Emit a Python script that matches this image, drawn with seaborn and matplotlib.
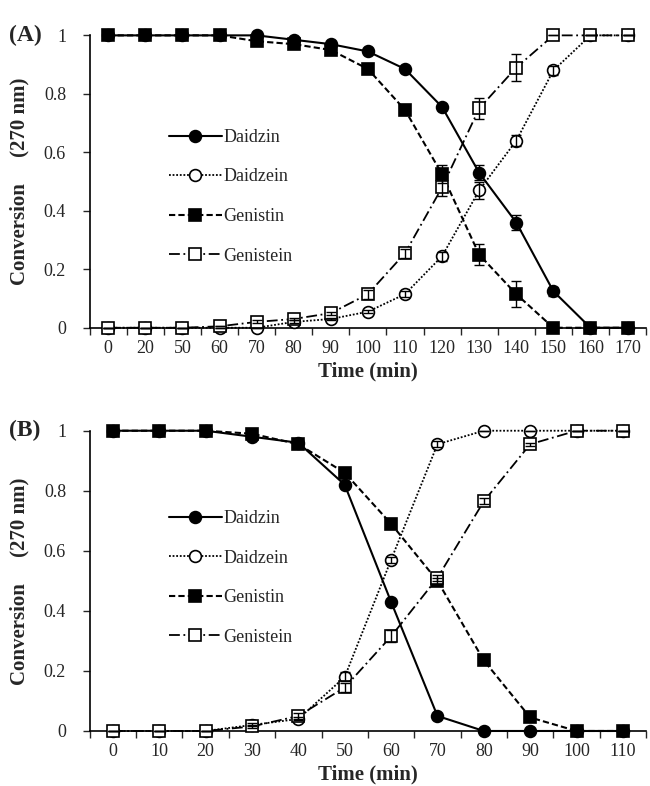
import numpy as np
import matplotlib
matplotlib.use('Agg')
import matplotlib.pyplot as plt
from matplotlib.ticker import FixedLocator, FuncFormatter
import seaborn as sns

# ---- panel A data ------------------------------------------------------
time_a = ['0', '20', '50', '60', '70', '80', '90', '100', '110', '120', '130', '140', '150', '160', '170']
daidzin_a = [1, 1, 1, 1, 1.0, 0.985, 0.97, 0.945, 0.885, 0.755, 0.53, 0.36, 0.125, 0, 0]
daidzein_a = [0, 0, 0, 0, 0, 0.02, 0.03, 0.055, 0.115, 0.245, 0.47, 0.64, 0.88, 1, 1]
genistin_a = [1, 1, 1, 1, 0.98, 0.97, 0.95, 0.885, 0.745, 0.525, 0.25, 0.115, 0, 0, 0]
genistein_a = [0, 0, 0, 0.005, 0.02, 0.03, 0.05, 0.115, 0.255, 0.48, 0.75, 0.89, 1, 1, 1]
daidzin_a_err = [0, 0, 0, 0, 0, 0.005, 0.005, 0.005, 0.005, 0.01, 0.025, 0.025, 0.015, 0, 0]
daidzein_a_err = [0, 0, 0, 0, 0, 0.005, 0.005, 0.005, 0.01, 0.015, 0.03, 0.02, 0.015, 0, 0]
genistin_a_err = [0, 0, 0, 0, 0, 0.005, 0.005, 0.005, 0.005, 0.03, 0.035, 0.045, 0, 0, 0]
genistein_a_err = [0, 0, 0, 0, 0.005, 0.005, 0.005, 0.015, 0.015, 0.03, 0.035, 0.045, 0, 0, 0]

# ---- panel B data ------------------------------------------------------
time_b = ['0', '10', '20', '30', '40', '50', '60', '70', '80', '90', '100', '110']
daidzin_b = [1, 1, 1, 0.98, 0.96, 0.82, 0.43, 0.05, 0, 0, 0, 0]
daidzein_b = [0, 0, 0, 0.02, 0.04, 0.18, 0.57, 0.955, 1, 1, 1, 1]
genistin_b = [1, 1, 1, 0.99, 0.955, 0.86, 0.69, 0.5, 0.235, 0.045, 0, 0]
genistein_b = [0, 0, 0, 0.015, 0.05, 0.145, 0.315, 0.51, 0.765, 0.955, 1, 1]
daidzin_b_err = [0, 0, 0, 0.005, 0.005, 0.005, 0.005, 0.005, 0, 0, 0, 0]
daidzein_b_err = [0, 0, 0, 0.005, 0.005, 0.015, 0.01, 0.01, 0, 0, 0, 0]
genistin_b_err = [0, 0, 0, 0.005, 0.005, 0.005, 0.005, 0.01, 0, 0, 0, 0]
genistein_b_err = [0, 0, 0, 0.005, 0.01, 0.015, 0.02, 0.01, 0.01, 0.005, 0, 0]

series = ['Daidzin', 'Daidzein', 'Genistin', 'Genistein']

sns.set_theme(style='white')
plt.rcParams['font.family'] = ['Liberation Serif', 'DejaVu Serif']

styles = {
    'Daidzin':   dict(marker='o', mfc='black', ls='-', lw=1.5),
    'Daidzein':  dict(marker='o', mfc='white', ls=(0, (1, 1)), lw=1.3),
    'Genistin':  dict(marker='s', mfc='black', ls=(0, (3, 1.5)), lw=1.5),
    'Genistein': dict(marker='s', mfc='white', ls=(0, (6, 2, 1, 2)), lw=1.3),
}


def draw_panel(ax, times, vals, errs, tag, leg_y):
    x = np.arange(len(times))
    for name in series:
        st = styles[name]
        sns.lineplot(x=x, y=vals[name], ax=ax, color='black', marker=st['marker'],
                     markersize=8.5, markerfacecolor=st['mfc'], markeredgecolor='black',
                     markeredgewidth=1.2, linestyle=st['ls'], linewidth=st['lw'],
                     label=name, clip_on=False, zorder=3)
        ax.errorbar(x, vals[name], yerr=errs[name], fmt='none', ecolor='black',
                    elinewidth=1, capsize=3.5, capthick=1, zorder=4, clip_on=False)

    ax.set_xlim(-0.5, len(times) - 0.5)
    ax.set_ylim(0, 1)
    ax.set_xticks(x)
    ax.set_xticklabels(times)
    ax.xaxis.set_minor_locator(FixedLocator(np.arange(-0.5, len(times), 1)))
    ax.tick_params(axis='x', which='major', length=0, pad=9, labelsize=13)
    ax.tick_params(axis='x', which='minor', length=5, width=1, direction='out', bottom=True)
    ax.set_yticks([0, 0.2, 0.4, 0.6, 0.8, 1])
    ax.yaxis.set_major_formatter(FuncFormatter(lambda v, p: '%g' % v))
    ax.tick_params(axis='y', length=5, width=1, direction='out', left=True, labelsize=13, pad=12)
    for s in ['top', 'right']:
        ax.spines[s].set_visible(False)
    for s in ['left', 'bottom']:
        ax.spines[s].set_color('black')
        ax.spines[s].set_linewidth(1.2)
    ax.set_xlabel('Time (min)', fontsize=15, fontweight='bold', labelpad=3)
    ax.set_ylabel('Conversion     (270 nm)', fontsize=15, fontweight='bold', labelpad=10)
    ax.legend(loc='upper left', bbox_to_anchor=(0.13, leg_y), frameon=False,
              fontsize=13, labelspacing=1.25, handlelength=2.9, handletextpad=0.1,
              borderaxespad=0)
    ax.text(-0.145, 1.0, tag, transform=ax.transAxes, fontsize=17, fontweight='bold',
            ha='left', va='center')


fig = plt.figure(figsize=(6.5, 7.86), dpi=100)
ax1 = fig.add_axes([0.138, 0.583, 0.856, 0.372])
ax2 = fig.add_axes([0.138, 0.070, 0.856, 0.382])

draw_panel(ax1, time_a,
           dict(Daidzin=daidzin_a, Daidzein=daidzein_a, Genistin=genistin_a, Genistein=genistein_a),
           dict(Daidzin=daidzin_a_err, Daidzein=daidzein_a_err, Genistin=genistin_a_err, Genistein=genistein_a_err),
           '(A)', 0.705)
draw_panel(ax2, time_b,
           dict(Daidzin=daidzin_b, Daidzein=daidzein_b, Genistin=genistin_b, Genistein=genistein_b),
           dict(Daidzin=daidzin_b_err, Daidzein=daidzein_b_err, Genistin=genistin_b_err, Genistein=genistein_b_err),
           '(B)', 0.76)

fig.savefig('out.png', dpi=100)
